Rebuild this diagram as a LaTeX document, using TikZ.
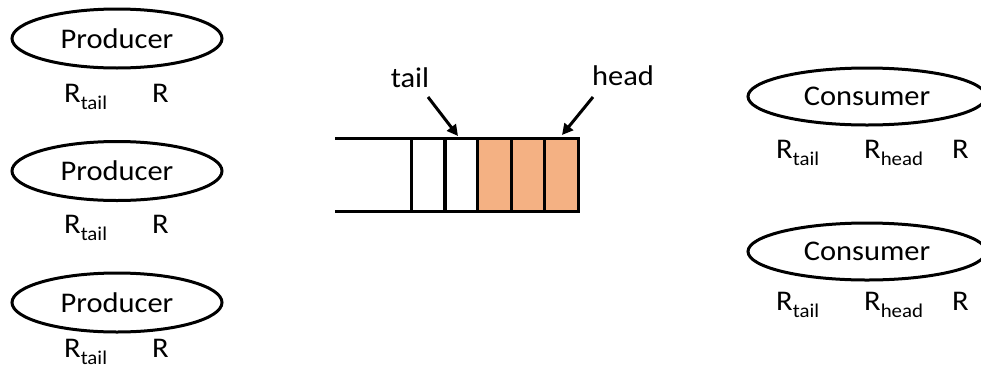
\documentclass[tikz,border=0pt]{standalone}
\usepackage{fontspec}
\setmainfont{Carlito}[FakeStretch=1.07]
\usetikzlibrary{arrows.meta,shapes.geometric}
\definecolor{filled}{HTML}{F4B183}
% register name with a lowered subscript
\newcommand{\regname}[2]{R\raisebox{-7pt}{\fontsize{19.5}{19.5}\selectfont #2}}
\begin{document}
\begin{tikzpicture}[x=1pt,y=-1pt,
  font=\fontsize{28.5}{28.5}\selectfont,
  thread/.style={draw, ellipse, line width=3pt, inner sep=0pt},
  lbl/.style={anchor=base west, inner sep=0pt},
  cell/.style={draw, line width=3pt, outer sep=0pt, minimum width=34pt, minimum height=73pt, inner sep=0pt},
  pointer/.style={line width=3pt, -{Triangle[length=11pt,width=11pt]}}]
\useasboundingbox (0,0) rectangle (981,370);

% producers
\foreach \i/\y/\b in {1/38.5/102, 2/171/233, 3/302.5/357}{
  \node[thread, minimum width=210pt, minimum height=59pt] (p\i) at (117,\y) {Producer};
  \node[lbl] (pt\i) at (64,\b) {\regname{R}{tail}};
  \node[lbl] (pr\i) at (152,\b) {R};
}

% consumers
\foreach \i/\y/\b in {1/96.5/158, 2/251.5/310}{
  \node[thread, minimum width=238pt, minimum height=57pt] (c\i) at (867,\y) {Consumer};
  \node[lbl] (ct\i) at (776,\b) {\regname{R}{tail}};
  \node[lbl] (ch\i) at (864,\b) {\regname{R}{head}};
  \node[lbl] (cr\i) at (952,\b) {R};
}

% ring buffer slots
\node[cell] (s1) at (428,174.5) {};
\node[cell] (s2) at (461.5,174.5) {};
\node[cell, fill=filled] (s3) at (494.5,174.5) {};
\node[cell, fill=filled] (s4) at (528,174.5) {};
\node[cell, fill=filled] (s5) at (561,174.5) {};
\coordinate (qtop) at ([xshift=-76pt]s1.north west);
\coordinate (qbot) at ([xshift=-76pt]s1.south west);
\draw[line width=3pt] (qtop) -- (s1.north west);
\draw[line width=3pt] (qbot) -- (s1.south west);

% tail and head pointers
\node[anchor=base, inner sep=0pt] (tail) at (410,87) {tail};
\node[anchor=base, inner sep=0pt] (head) at (623,85) {head};
\coordinate (tailfrom) at (428,97);
\coordinate (headfrom) at (593,97);
\coordinate (tailto) at (458,136);
\coordinate (headto) at (562,135);
\draw[pointer] (tailfrom) -- (tailto);
\draw[pointer] (headfrom) -- (headto);
\end{tikzpicture}
\end{document}
